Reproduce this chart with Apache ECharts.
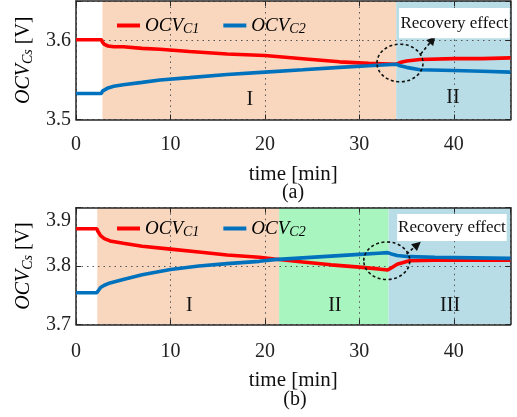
<!DOCTYPE html>
<html><head><meta charset="utf-8">
<script src="https://cdn.jsdelivr.net/npm/echarts@6/dist/echarts.min.js"></script>
<style>html,body{margin:0;padding:0;background:#fff}#c{width:517px;height:417px}</style>
</head><body><div id="c"></div>
<script>
// ---- data ----
const timeA = [0, 2.7, 2.8, 3.0, 3.4, 4, 5, 7, 8.9, 12, 16, 20, 24, 27.9, 31, 33.9, 34.3, 35, 36.4, 40, 43, 46];
const ocvC1A = [3.601, 3.601, 3.598, 3.595, 3.593, 3.592, 3.592, 3.590, 3.589, 3.586, 3.583, 3.581, 3.577, 3.573, 3.571, 3.570, 3.572, 3.574, 3.576, 3.577, 3.577, 3.578];
const ocvC2A = [3.533, 3.533, 3.536, 3.538, 3.540, 3.542, 3.544, 3.547, 3.550, 3.553, 3.557, 3.560, 3.563, 3.566, 3.568, 3.570, 3.568, 3.566, 3.563, 3.562, 3.561, 3.560];
const timeB = [0, 2.2, 2.3, 2.6, 3.0, 3.6, 5, 7, 10, 13, 16, 19.4, 21, 24, 27, 30, 32, 33, 33.5, 34, 35.3, 38, 42, 46];
const ocvC1B = [3.864, 3.864, 3.860, 3.852, 3.847, 3.843, 3.839, 3.834, 3.829, 3.824, 3.819, 3.815, 3.812, 3.807, 3.802, 3.798, 3.795, 3.793, 3.798, 3.803, 3.809, 3.810, 3.810, 3.810];
const ocvC2B = [3.754, 3.754, 3.757, 3.763, 3.767, 3.771, 3.777, 3.785, 3.794, 3.800, 3.804, 3.808, 3.811, 3.814, 3.817, 3.820, 3.822, 3.823, 3.820, 3.818, 3.816, 3.815, 3.814, 3.813];
const regionsA = [[2.8, 33.9], [33.9, 46]];
const regionsB = [[2.25, 21.5], [21.5, 33.1], [33.1, 46]];
const regionLabelsA = ['I', 'II'];
const regionLabelsB = ['I', 'II', 'III'];
const xTicks = [0, 10, 20, 30, 40];
const yTicksA = [3.5, 3.6];
const yTicksB = [3.7, 3.8, 3.9];
const seriesNames = ['OCV_C1', 'OCV_C2'];
const annotationText = 'Recovery effect';
const panelLabels = ['(a)', '(b)'];

// ---- styling ----
const FONT = 'Liberation Serif';
const colOrange = '#F9D7BE', colBlue = '#B8DDE7', colGreen = '#A9F5C0';
const lineRed = '#FF0000', lineBlue = '#0072BD';
const axisCol = '#262626';

const chart = echarts.init(document.getElementById('c'), null, {renderer: 'canvas'});
const zip = (t, v) => t.map((x, i) => [x, v[i]]);
const near = (v, list) => list.some(u => Math.abs(u - v) < 1e-6);

const richName = {
  i: {fontFamily: FONT, fontStyle: 'italic', fontSize: 20, color: '#000'},
  s: {fontFamily: FONT, fontStyle: 'italic', fontSize: 14, color: '#000', padding: [8, 0, 0, 0]},
  n: {fontFamily: FONT, fontSize: 20, color: '#000'}
};
const richLeg = {
  i: {fontFamily: FONT, fontStyle: 'italic', fontSize: 19, color: '#000'},
  s: {fontFamily: FONT, fontStyle: 'italic', fontSize: 14, color: '#000', padding: [8, 0, 0, 0]}
};

function xAx(gi, pos, labels, margin) {
  return {
    type: 'value', gridIndex: gi, position: pos, min: 0, max: 46, interval: 10, z: 2,
    axisLine: {show: true, onZero: false, lineStyle: {color: axisCol, width: 1.5}},
    axisTick: {show: true, inside: true, length: 5, lineStyle: {color: axisCol}},
    axisLabel: {show: labels, margin: margin, showMaxLabel: false, fontFamily: FONT, fontSize: 20, color: '#222',
      formatter: v => near(v, xTicks) ? String(v) : ''},
    splitLine: {show: labels, lineStyle: {color: '#555', type: [1.5, 4], width: 1}},
    name: labels ? 'time [min]' : '', nameLocation: 'middle', nameGap: margin + 29,
    nameTextStyle: {fontFamily: FONT, fontSize: 21, color: '#111'}
  };
}
function yAx(gi, pos, min, max, labels, ticks, hackTop) {
  return {
    type: 'value', gridIndex: gi, position: pos, min: min, max: max, interval: 0.1, z: 2,
    axisLine: {show: true, onZero: false, lineStyle: {color: axisCol, width: 1.5}},
    axisTick: {show: true, inside: true, length: 5, lineStyle: {color: axisCol}},
    axisLabel: {show: labels, margin: 5, fontFamily: FONT, fontSize: 20, color: '#222',
      formatter: v => { if (!near(v, ticks)) return ''; const s = v.toFixed(1); return (hackTop && Math.abs(v - max) < 1e-6) ? '{lo|' + s + '}' : s; },
      rich: {lo: {fontFamily: FONT, fontSize: 20, color: '#222', padding: [26, 0, 0, 0]}}},
    splitLine: {show: labels, lineStyle: {color: '#555', type: [1.5, 4], width: 1}},
    name: labels ? '{i|OCV}{s|Cs}{n| [V]}' : '', nameLocation: 'middle', nameGap: 34, nameRotate: 90,
    nameTextStyle: {rich: richName}
  };
}

function areaSeries(xi, yi, regions, colors) {
  return {
    type: 'line', xAxisIndex: xi, yAxisIndex: yi, data: [], z: 1, silent: true,
    markArea: {silent: true, data: regions.map((r, k) => [{xAxis: r[0], itemStyle: {color: colors[k], opacity: 1}}, {xAxis: r[1]}])}
  };
}
function lineSeries(name, xi, yi, t, v, col) {
  return {
    name: name, type: 'line', xAxisIndex: xi, yAxisIndex: yi, data: zip(t, v), z: 3,
    showSymbol: false, symbol: 'none', lineStyle: {color: col, width: 3.6}, itemStyle: {color: col}
  };
}

const option = {
  animation: false,
  grid: [
    {left: 76, right: 6.5, top: 1, height: 118.5, containLabel: false},
    {left: 76, right: 6.5, top: 207.7, height: 116.6, containLabel: false}
  ],
  xAxis: [xAx(0, 'bottom', true, 15), xAx(1, 'bottom', true, 17), xAx(0, 'top', false, 0), xAx(1, 'top', false, 0)],
  yAxis: [yAx(0, 'left', 3.5, 3.65, true, yTicksA, false), yAx(1, 'left', 3.7, 3.9, true, yTicksB, true),
          yAx(0, 'right', 3.5, 3.65, false, yTicksA, false), yAx(1, 'right', 3.7, 3.9, false, yTicksB, false)],
  legend: [
    {data: seriesNames, left: 117, top: 16, itemWidth: 23, itemHeight: 4, icon: 'rect', itemGap: 24,
     formatter: n => '{i|OCV}{s|' + n.slice(4) + '}', textStyle: {rich: richLeg}, padding: 0},
    {data: seriesNames, left: 117, top: 219, itemWidth: 23, itemHeight: 4, icon: 'rect', itemGap: 24,
     formatter: n => '{i|OCV}{s|' + n.slice(4) + '}', textStyle: {rich: richLeg}, padding: 0}
  ],
  series: [
    areaSeries(0, 0, regionsA, [colOrange, colBlue]),
    areaSeries(1, 1, regionsB, [colOrange, colGreen, colBlue]),
    lineSeries(seriesNames[0], 0, 0, timeA, ocvC1A, lineRed),
    lineSeries(seriesNames[1], 0, 0, timeA, ocvC2A, lineBlue),
    lineSeries(seriesNames[0], 1, 1, timeB, ocvC1B, lineRed),
    lineSeries(seriesNames[1], 1, 1, timeB, ocvC2B, lineBlue)
  ]
};
chart.setOption(option);

// ---- annotations positioned from data coordinates ----
const annA = {center: [34.3, 3.5715], arrowFrom: [36.5, 3.583], arrowTo: [38.05, 3.6055], box: [[34.2, 3.641], [45.9, 3.603]], roman: [[18.4, 3.525], [39.9, 3.527]], romanText: regionLabelsA};
const annB = {center: [32.9, 3.809], arrowFrom: [35.0, 3.8205], arrowTo: [36.5, 3.8418], box: [[34.0, 3.8893], [45.6, 3.843]], roman: [[12.0, 3.732], [27.4, 3.732], [39.6, 3.732]], romanText: regionLabelsB};

function px(gi, p) { return chart.convertToPixel({xAxisIndex: gi, yAxisIndex: gi}, p); }
const graphics = [];
[annA, annB].forEach((a, gi) => {
  const c = px(gi, a.center);
  graphics.push({type: 'ellipse', shape: {cx: c[0], cy: c[1], rx: 23, ry: 18.8}, z: 10,
    style: {fill: 'none', stroke: '#111', lineWidth: 1.6, lineDash: [3, 2.5]}});
  const f = px(gi, a.arrowFrom), t = px(gi, a.arrowTo);
  const ang = Math.atan2(t[1] - f[1], t[0] - f[0]);
  const hl = 9, hw = 4.5;
  const bx = t[0] - hl * Math.cos(ang), by = t[1] - hl * Math.sin(ang);
  graphics.push({type: 'line', shape: {x1: f[0], y1: f[1], x2: bx, y2: by}, z: 10,
    style: {stroke: '#111', lineWidth: 1.6, lineDash: [3, 2.5]}});
  graphics.push({type: 'polygon', z: 10, shape: {points: [t,
    [bx + hw * Math.sin(ang), by - hw * Math.cos(ang)], [bx - hw * Math.sin(ang), by + hw * Math.cos(ang)]]},
    style: {fill: '#111'}});
  const b0 = px(gi, a.box[0]), b1 = px(gi, a.box[1]);
  graphics.push({type: 'rect', z: 11, shape: {x: b0[0], y: b0[1], width: b1[0] - b0[0], height: b1[1] - b0[1]}, style: {fill: '#fff'}});
  graphics.push({type: 'text', z: 12, x: (b0[0] + b1[0]) / 2, y: (b0[1] + b1[1]) / 2,
    style: {text: annotationText, fontFamily: FONT, fontSize: 17, fill: '#111', align: 'center', verticalAlign: 'middle'}});
  a.roman.forEach((r, k) => {
    const p = px(gi, r);
    graphics.push({type: 'text', z: 12, x: p[0], y: p[1],
      style: {text: a.romanText[k], fontFamily: FONT, fontSize: 20, fill: '#111', align: 'center', verticalAlign: 'middle'}});
  });
});
graphics.push({type: 'text', z: 12, x: 293, y: 193, style: {text: panelLabels[0], fontFamily: FONT, fontSize: 20, fill: '#111', align: 'center', verticalAlign: 'middle'}});
graphics.push({type: 'text', z: 12, x: 295, y: 400, style: {text: panelLabels[1], fontFamily: FONT, fontSize: 20, fill: '#111', align: 'center', verticalAlign: 'middle'}});
chart.setOption({graphic: graphics});
</script></body></html>
